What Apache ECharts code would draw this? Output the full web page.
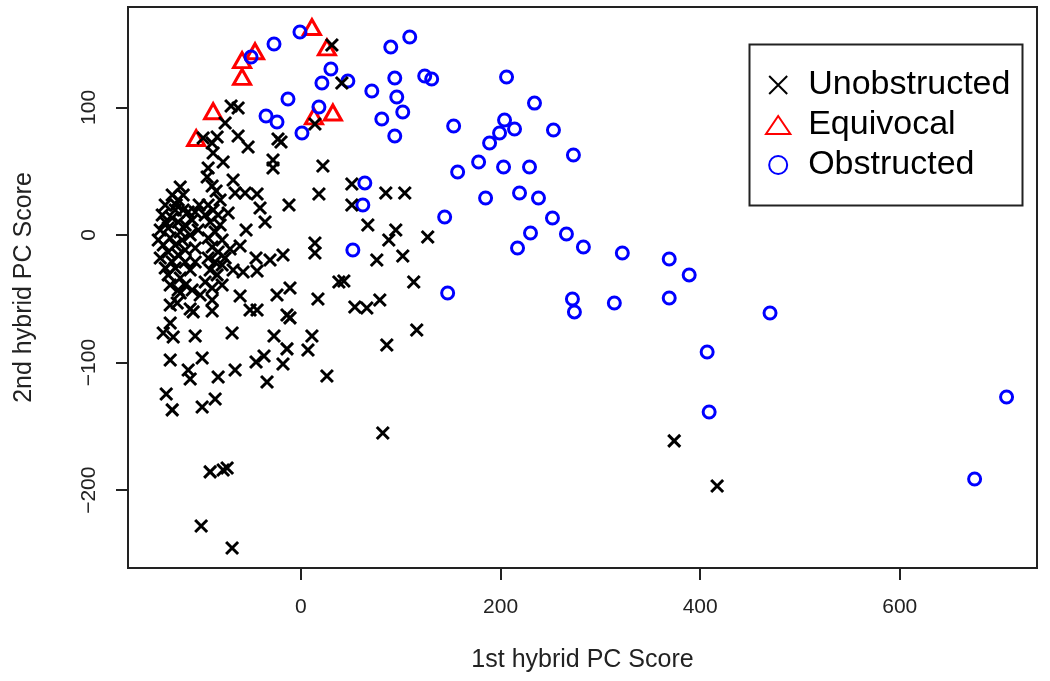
<!DOCTYPE html>
<html>
<head>
<meta charset="utf-8">
<script src="https://cdn.jsdelivr.net/npm/echarts@6/dist/echarts.min.js"></script>
<style>html,body{margin:0;padding:0;background:#fff;}#c{width:1050px;height:681px;}</style>
</head>
<body>
<div id="c"></div>
<script>
var xTicks = [0, 200, 400, 600];
var yTicks = [-200, -100, 0, 100];
var seriesNames = ['Unobstructed', 'Equivocal', 'Obstructed'];

var equivocal = [[11,163],[26,147],[-46,144],[-59,137],[-59,124],[-88,97],[-105,76],[13,93],[32,96]];

var obstructed = [
[-1,159.1],[-27,149.7],[-50,139.5],[30,130.1],[21,119.1],[47,120.7],[71,112.9],[-13,106.6],[18,100.3],
[-35,93.3],[-24,88.6],[1,79.9],[64,40.8],[90,147.3],[109,155.2],[94,123.0],[96,108.2],[102,96.4],
[81,90.9],[94,77.6],[124,124.6],[131,122.3],[153,85.4],[206,123.8],[234,103.4],[204,90.1],[199,79.9],
[214,83.1],[189,72.1],[253,82.3],[178,57.2],[157,49.4],[203,53.3],[229,53.3],[219,32.9],[238,29.0],
[185,29.0],[273,62.7],[252,13.3],[230,1.6],[217,-10.2],[266,0.8],[283,-9.4],[322,-14.1],[369,-18.8],
[389,-31.3],[272,-50.2],[274,-60.3],[314,-53.3],[369,-49.4],[470,-61.1],[407,-91.7],[409,-138.7],
[707,-127.0],[675,-191.2],[62,23.5],[144,14.1],[52,-11.8],[147,-45.5]
];

var unobstructed = [
[31,148.9],[41,119.1],[-70,101.1],[-63,99.5],[-76,87.8],[-63,77.6],[-53,69.0],[-84,76.8],[-89,72.1],
[-98,76.0],[-88,64.3],[-78,57.2],[-23,75.2],[-20,72.9],[-28,58.8],[-28,52.5],[14,87.0],[22,54.1],
[51,40.0],[18,32.1],[-93,52.5],[-94,45.5],[-68,43.1],[-121,37.6],[-89,38.4],[-85,34.5],[-66,32.9],
[-56,32.9],[-44,32.1],[-41,21.2],[-12,23.5],[51,23.5],[85,32.9],[104,32.9],[67,7.8],[95,3.9],
[88,-3.9],[127,-1.6],[14,-6.3],[14,-14.1],[76,-19.6],[102,-16.5],[-36,10.2],[-55,3.9],[-118,19.6],
[-71,-11.0],[-61,-8.6],[-45,-18.0],[-18,-15.7],[-31,-19.6],[-68,-27.4],[-58,-29.0],[-44,-28.2],
[-11,-41.5],[-24,-47.0],[-61,-47.8],[-89,-50.9],[38,-36.8],[43,-36.1],[113,-36.8],[17,-50.2],
[54,-56.4],[66,-57.2],[79,-50.9],[116,-74.5],[11,-79.2],[7,-90.1],[86,-86.2],[26,-110.5],[82,-155.2],
[-51,-58.8],[-44,-58.8],[-14,-62.7],[-11,-65.0],[-89,-59.6],[-111,-58.0],[-108,-60.3],[-131,-54.9],
[-124,-53.3],[-121,-45.5],[-131,-69.0],[-138,-76.8],[-128,-79.9],[-106,-79.2],[-69,-76.8],[-27,-79.2],
[-14,-89.3],[-131,-98.0],[-99,-96.4],[-113,-105.8],[-111,-112.9],[-83,-111.3],[-66,-105.8],[-45,-99.5],
[-37,-94.8],[-18,-101.1],[-34,-115.2],[-135,-124.6],[-129,-137.1],[-99,-134.8],[-86,-128.5],
[-91,-185.7],[-78,-184.2],[-74,-182.6],[-100,-228.1],[-69,-245.3],[374,-161.4],[417,-196.7],
[-139,15.7],[-136,10.2],[-141,3.9],[-133,5.5],[-129,13.3],[-126,19.6],[-123,10.2],[-131,-2.4],
[-138,-7.8],[-143,-3.9],[-126,-7.8],[-121,2.4],[-116,7.8],[-119,-3.9],[-133,-13.3],[-141,-18.0],
[-129,-21.2],[-123,-15.7],[-116,-11.8],[-111,0],[-109,11.8],[-113,18.0],[-123,27.4],[-118,31.3],
[-126,-25.9],[-133,-31.3],[-121,-33.7],[-116,-39.2],[-123,-43.1],[-111,-27.4],[-106,-21.2],[-136,-25.9],
[-116,-21.2],[-106,-10.2],[-131,-39.2],[-109,-43.1],[-125,23.5],[-103,3.9],[-136,23.5],[-129,31.3],
[-93,23.5],[-88,19.6],[-83,15.7],[-91,10.2],[-81,7.8],[-86,2.4],[-93,-2.4],[-79,-3.9],[-89,-9.4],
[-83,-13.3],[-93,-18.0],[-86,-21.2],[-79,-23.5],[-91,-27.4],[-84,-31.3],[-76,-18.0],[-73,17.2],
[-96,15.7],[-81,27.4],[-106,18.0],[-102,23.5],[-96,-36.8],[-89,-41.5],[-101,-47.0],[-79,-39.2]
];

var FONT = '"Liberation Sans", Arial, sans-serif';
var xPath = 'path://M0,0L10,10M10,0L0,10';
var triPath = 'path://M11.5,0L23,17L0,17Z';

var chart = echarts.init(document.getElementById('c'), null, {renderer: 'canvas'});
chart.setOption({
  backgroundColor: '#ffffff',
  animation: false,
  grid: {
    left: 128, top: 7, right: 13, bottom: 113,
    show: true, borderColor: '#222', borderWidth: 2, backgroundColor: 'transparent'
  },
  xAxis: {
    type: 'value', min: -173.3, max: 737.5,
    name: '1st hybrid PC Score', nameLocation: 'middle', nameGap: 80,
    nameTextStyle: {fontFamily: FONT, fontSize: 25, color: '#222'},
    axisLine: {show: false, onZero: false},
    splitLine: {show: false},
    axisTick: {show: true, inside: false, length: 12, customValues: xTicks, lineStyle: {color: '#222', width: 2}},
    axisLabel: {show: true, customValues: xTicks, margin: 29, fontFamily: FONT, fontSize: 21, color: '#222'}
  },
  yAxis: {
    type: 'value', min: -261, max: 178.7,
    name: '2nd hybrid PC Score', nameLocation: 'middle', nameGap: 91, nameRotate: 90,
    nameTextStyle: {fontFamily: FONT, fontSize: 25, color: '#222'},
    axisLine: {show: false, onZero: false},
    splitLine: {show: false},
    axisTick: {show: true, inside: false, length: 12, customValues: yTicks, lineStyle: {color: '#222', width: 2}},
    axisLabel: {show: true, customValues: yTicks, rotate: 90, margin: 28, fontFamily: FONT, fontSize: 21, color: '#222',
      formatter: function (v) { return String(v).replace('-', '\u2212'); }}
  },
  legend: {
    orient: 'vertical', left: 760, top: 63,
    itemWidth: 50, itemHeight: 18, itemGap: 6,
    symbolKeepAspect: true,
    textStyle: {fontFamily: FONT, fontSize: 34, color: '#000'},
    itemStyle: {borderWidth: 2},
    data: [
      {name: seriesNames[0], icon: xPath},
      {name: seriesNames[1], icon: triPath},
      {name: seriesNames[2], icon: 'circle'}
    ]
  },
  graphic: [{
    type: 'rect', left: 747, top: 42, shape: {width: 273, height: 161},
    style: {fill: 'none', stroke: '#222', lineWidth: 2}, z: 100
  }],
  series: [
    {
      name: seriesNames[1], type: 'scatter', data: equivocal,
      symbol: 'triangle', symbolSize: [17, 15],
      itemStyle: {color: 'rgba(0,0,0,0)', borderColor: '#ff0000', borderWidth: 3, opacity: 1}
    },
    {
      name: seriesNames[2], type: 'scatter', data: obstructed,
      symbol: 'circle', symbolSize: 12,
      itemStyle: {color: 'rgba(0,0,0,0)', borderColor: '#0000ff', borderWidth: 3, opacity: 1}
    },
    {
      name: seriesNames[0], type: 'scatter', data: unobstructed,
      symbol: xPath, symbolSize: 12,
      itemStyle: {color: 'rgba(0,0,0,0)', borderColor: '#000000', borderWidth: 3, opacity: 1}
    }
  ]
});
</script>
</body>
</html>
